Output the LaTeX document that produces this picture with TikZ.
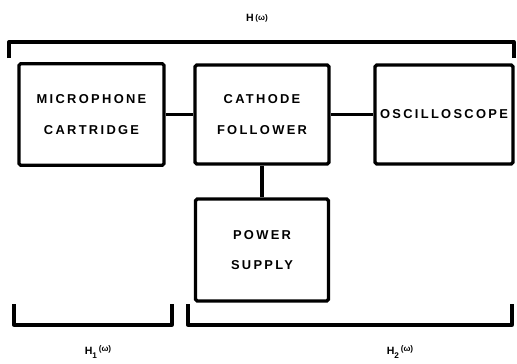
\documentclass[tikz,border=0pt]{standalone}
\usepackage{fontspec}
\newfontfamily\blockfont[LetterSpace=18]{Liberation Sans Bold}
\newfontfamily\tagfont{Liberation Sans Bold}
\usetikzlibrary{positioning}

\begin{document}
\begin{tikzpicture}[
  x=0.03cm, y=-0.03cm,
  block/.style={
    rectangle, draw=black, line width=2.8pt, rounded corners=1.5pt,
    align=center, inner sep=0pt,
    font=\blockfont\fontsize{11}{26}\selectfont
  },
  link/.style={draw=black, line width=2.8pt},
  brace/.style={draw=black, line width=2.8pt, line join=round},
  tag/.style={font=\tagfont\fontsize{9}{10}\selectfont, inner sep=0pt}
]
\useasboundingbox (0,0) rectangle (517,363);

\node[block, minimum width=4.35cm, minimum height=3.05cm] (mic) at (91.5,114.5) {MICROPHONE\\CARTRIDGE};
\node[block, minimum width=4.02cm, minimum height=2.97cm] (cf) at (262,114.5) {CATHODE\\FOLLOWER};
\node[block, minimum width=4.14cm, minimum height=2.97cm] (osc) at (444,114.5) {OSCILLOSCOPE};
\node[block, minimum width=3.99cm, minimum height=3.06cm] (ps) at (262,250) {POWER\\SUPPLY};

\draw[link] (mic.east) -- (cf.west);
\draw[link] (cf.east) -- (osc.west);
\draw[link] (cf.south) -- (ps.north);

% brackets
\coordinate (ta) at (9,58);
\coordinate (tb) at (514,58);
\draw[brace] (ta) |- (tb |- 0,42) -- (tb);
\coordinate (la) at (14,304);
\coordinate (lb) at (172,304);
\draw[brace] (la) |- (lb |- 0,325) -- (lb);
\coordinate (ra) at (188,304);
\coordinate (rb) at (512,304);
\draw[brace] (ra) |- (rb |- 0,325) -- (rb);

\node[tag] (h) at (257,18) {H\,\raisebox{0.3ex}{\fontsize{7}{8}\selectfont(ω)}};
\node[tag] (h1) at (98,352) {H\raisebox{-0.8ex}{\fontsize{7}{8}\selectfont 1}\,\raisebox{0.5ex}{\fontsize{7}{8}\selectfont(ω)}};
\node[tag] (h2) at (400,352) {H\raisebox{-0.8ex}{\fontsize{7}{8}\selectfont 2}\,\raisebox{0.5ex}{\fontsize{7}{8}\selectfont(ω)}};
\end{tikzpicture}
\end{document}
